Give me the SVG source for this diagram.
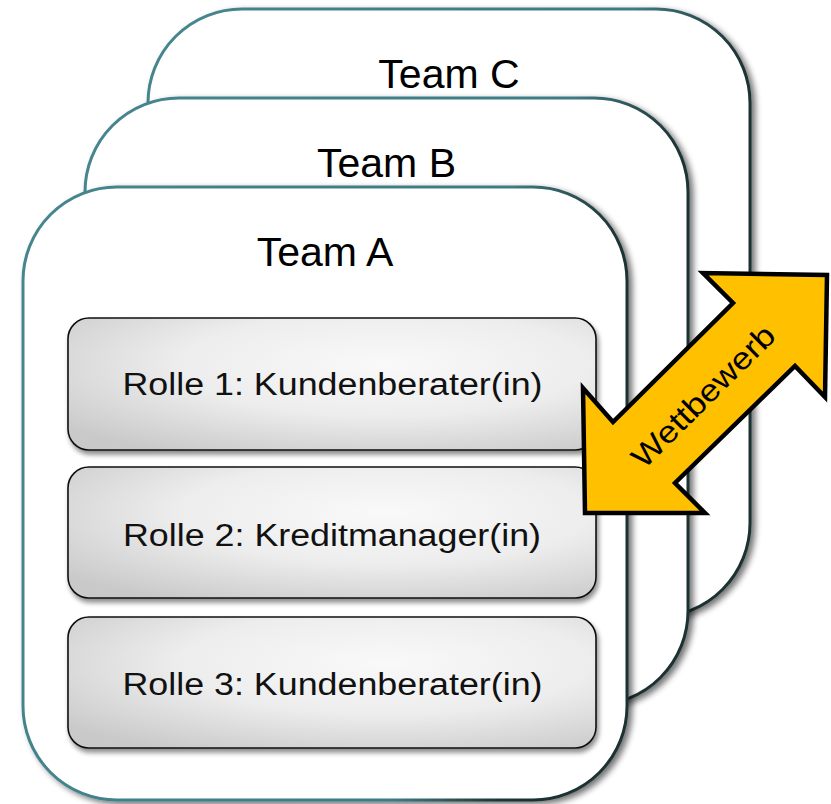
<svg xmlns="http://www.w3.org/2000/svg" width="831" height="804" viewBox="0 0 831 804">
  <defs>
    <linearGradient id="tealStroke" x1="0" y1="0" x2="1" y2="0.2">
      <stop offset="0" stop-color="#46868e"/>
      <stop offset="0.78" stop-color="#3f7a82"/>
      <stop offset="0.95" stop-color="#1f3638"/>
      <stop offset="1" stop-color="#1c3032"/>
    </linearGradient>
    <radialGradient id="roleFill" cx="0.6" cy="0.35" r="0.78">
      <stop offset="0" stop-color="#f9f9f9"/>
      <stop offset="0.5" stop-color="#ededed"/>
      <stop offset="1" stop-color="#c9c9c9"/>
    </radialGradient>
    <filter id="teamShadow" x="-5%" y="-5%" width="115%" height="115%">
      <feGaussianBlur in="SourceAlpha" stdDeviation="3"/>
      <feOffset dx="4" dy="3" result="b"/>
      <feComponentTransfer><feFuncA type="linear" slope="0.55"/></feComponentTransfer>
      <feMerge><feMergeNode/><feMergeNode in="SourceGraphic"/></feMerge>
    </filter>
    <filter id="roleShadow" x="-5%" y="-10%" width="112%" height="130%">
      <feGaussianBlur in="SourceAlpha" stdDeviation="2.5"/>
      <feOffset dx="2" dy="4" result="b"/>
      <feComponentTransfer><feFuncA type="linear" slope="0.45"/></feComponentTransfer>
      <feMerge><feMergeNode/><feMergeNode in="SourceGraphic"/></feMerge>
    </filter>
  </defs>
  <style>
    .team { fill: #ffffff; stroke: url(#tealStroke); stroke-width: 3; filter: url(#teamShadow); }
    .role { fill: url(#roleFill); stroke: #111111; stroke-width: 1.6; filter: url(#roleShadow); }
    .arrow { fill: #ffc000; stroke: #000000; stroke-width: 4.5; stroke-linejoin: miter; }
  </style>

  <g id="team-c">
    <rect class="team" x="148" y="9" width="602" height="608" rx="94" ry="94"/>
    <text x="449" y="88" font-family="Liberation Sans, Arial, sans-serif" font-size="41" fill="#000000" text-anchor="middle">Team C</text>
  </g>

  <g id="team-b">
    <rect class="team" x="85" y="98" width="603" height="607" rx="94" ry="94"/>
    <text x="386.5" y="177" font-family="Liberation Sans, Arial, sans-serif" font-size="41" fill="#000000" text-anchor="middle">Team B</text>
  </g>

  <g id="team-a">
    <rect class="team" x="23" y="187" width="604" height="613" rx="94" ry="94"/>
    <text x="325" y="266" font-family="Liberation Sans, Arial, sans-serif" font-size="41" fill="#000000" text-anchor="middle">Team A</text>
  </g>

  <g id="role-1">
    <rect class="role" x="68" y="318" width="528" height="132" rx="21" ry="21"/>
    <text x="332.5" y="395" font-family="Liberation Sans, Arial, sans-serif" font-size="31" fill="#111111" text-anchor="middle" textLength="420" lengthAdjust="spacingAndGlyphs">Rolle 1: Kundenberater(in)</text>
  </g>

  <g id="role-2">
    <rect class="role" x="68" y="467" width="528" height="131" rx="21" ry="21"/>
    <text x="332" y="546" font-family="Liberation Sans, Arial, sans-serif" font-size="31" fill="#111111" text-anchor="middle" textLength="418" lengthAdjust="spacingAndGlyphs">Rolle 2: Kreditmanager(in)</text>
  </g>

  <g id="role-3">
    <rect class="role" x="68" y="617" width="528" height="131" rx="21" ry="21"/>
    <text x="332.5" y="695" font-family="Liberation Sans, Arial, sans-serif" font-size="31" fill="#111111" text-anchor="middle" textLength="420" lengthAdjust="spacingAndGlyphs">Rolle 3: Kundenberater(in)</text>
  </g>

  <g id="connectors">
    <g id="wettbewerb-arrow">
      <polygon class="arrow" points="827,275 825,397 795,366 675,483 705,513 585,513 583,388 613,422 733,303 703,273"/>
      <text transform="translate(703 396) rotate(-44.8)" x="0" y="11" font-family="Liberation Sans, Arial, sans-serif" font-size="31" fill="#000000" text-anchor="middle" textLength="188" lengthAdjust="spacingAndGlyphs">Wettbewerb</text>
    </g>
  </g>
</svg>
